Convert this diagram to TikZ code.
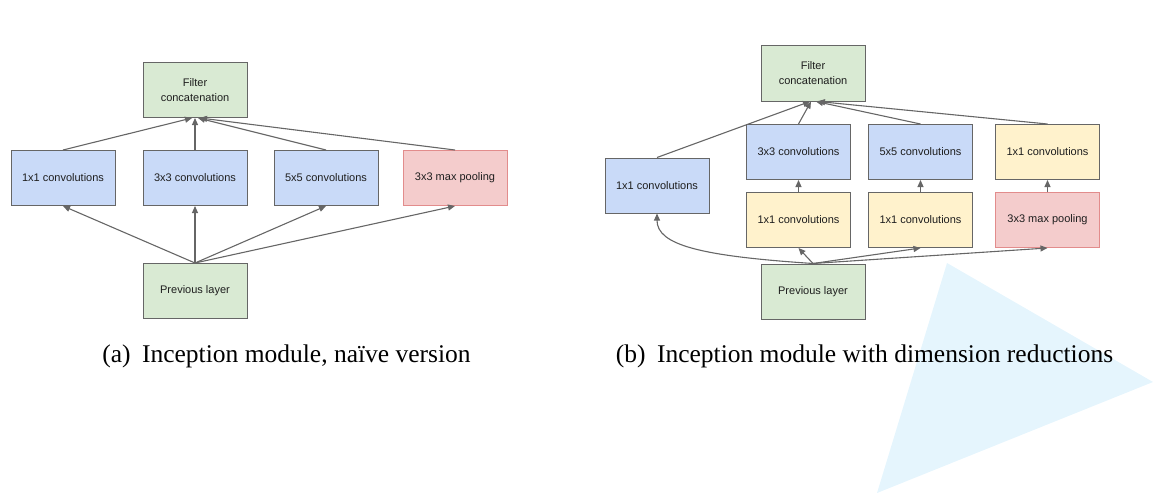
\documentclass[tikz,border=0pt]{standalone}
\usepackage{fontspec}
\setmainfont{Liberation Serif}
\newfontfamily\boxfont{Liberation Sans}
\usetikzlibrary{arrows.meta}
\definecolor{gfill}{RGB}{217,234,211}
\definecolor{bfill}{RGB}{201,218,248}
\definecolor{yfill}{RGB}{255,242,204}
\definecolor{rfill}{RGB}{244,204,204}
\definecolor{rdraw}{RGB}{226,140,140}
\definecolor{edge}{RGB}{102,102,102}
\definecolor{wm}{RGB}{229,245,253}
\definecolor{txt}{RGB}{30,30,30}
\tikzset{
  blk/.style={draw=edge, line width=1pt, minimum width=104pt, minimum height=55pt,
    inner sep=0pt, align=center, text=txt, font=\boxfont\fontsize{11}{15}\selectfont},
  gbox/.style={blk, fill=gfill},
  bbox/.style={blk, fill=bfill},
  ybox/.style={blk, fill=yfill},
  rbox/.style={blk, fill=rfill, draw=rdraw},
  conn/.style={draw=edge, line width=1.1pt, -{Triangle[length=7pt,width=6pt]}},
  captext/.style={anchor=base, inner sep=0pt, text=black, font=\fontsize{25.5}{30}\selectfont}
}
\begin{document}
\begin{tikzpicture}[x=1pt,y=-1pt]
\useasboundingbox (0,0) rectangle (1154,495);
% watermark triangle
\fill[wm] (947,263) -- (1153,382) -- (877,493) -- cycle;

% ---------- (a) ----------
\node[gbox] (concatA) at (195,90) {Filter\\concatenation};
\node[bbox] (c1A) at (63,178) {1x1 convolutions};
\node[bbox] (c3A) at (195,178) {3x3 convolutions};
\node[bbox] (c5A) at (326,178) {5x5 convolutions};
\node[rbox] (poolA) at (455,178) {3x3 max pooling};
\node[gbox] (prevA) at (195,291) {Previous layer};

\draw[conn] (prevA.north) -- (c1A.south);
\draw[conn] (prevA.north) -- (c3A.south);
\draw[conn] (prevA.north) -- (c5A.south);
\draw[conn] (prevA.north) -- (poolA.south);
\draw[conn] (c1A.north) -- ([xshift=-3pt]concatA.south);
\draw[conn] (c3A.north) -- (concatA.south);
\draw[conn] (c5A.north) -- ([xshift=3pt]concatA.south);
\draw[conn] (poolA.north) -- ([xshift=5pt]concatA.south);

\node[captext] (capA) at (286.5,362) {(a)\hspace{0.45em}Inception module, naïve version};

% ---------- (b) ----------
\node[gbox] (concatB) at (813,73.5) {Filter\\concatenation};
\node[bbox] (c1B) at (657,185.5) {1x1 convolutions};
\node[bbox] (c3B) at (798.5,152) {3x3 convolutions};
\node[bbox] (c5B) at (920.5,152) {5x5 convolutions};
\node[ybox] (c1pB) at (1047.5,152) {1x1 convolutions};
\node[ybox] (r3B) at (798.5,220) {1x1 convolutions};
\node[ybox] (r5B) at (920.5,220) {1x1 convolutions};
\node[rbox] (poolB) at (1047.5,220) {3x3 max pooling};
\node[gbox] (prevB) at (813,291.5) {Previous layer};

\draw[conn] (prevB.north) .. controls (700,256) and (657,245) .. (c1B.south);
\draw[conn] (prevB.north) -- (r3B.south);
\draw[conn] (prevB.north) -- (r5B.south);
\draw[conn] (prevB.north) -- (poolB.south);
\draw[conn] (r3B.north) -- (c3B.south);
\draw[conn] (r5B.north) -- (c5B.south);
\draw[conn] (poolB.north) -- (c1pB.south);
\draw[conn] (c1B.north) -- ([xshift=-3pt]concatB.south);
\draw[conn] (c3B.north) -- ([xshift=-2pt]concatB.south);
\draw[conn] (c5B.north) -- ([xshift=3pt]concatB.south);
\draw[conn] (c1pB.north) -- ([xshift=5pt]concatB.south);

\node[captext] (capB) at (864.5,362) {(b)\hspace{0.45em}Inception module with dimension reductions};
\end{tikzpicture}
\end{document}
